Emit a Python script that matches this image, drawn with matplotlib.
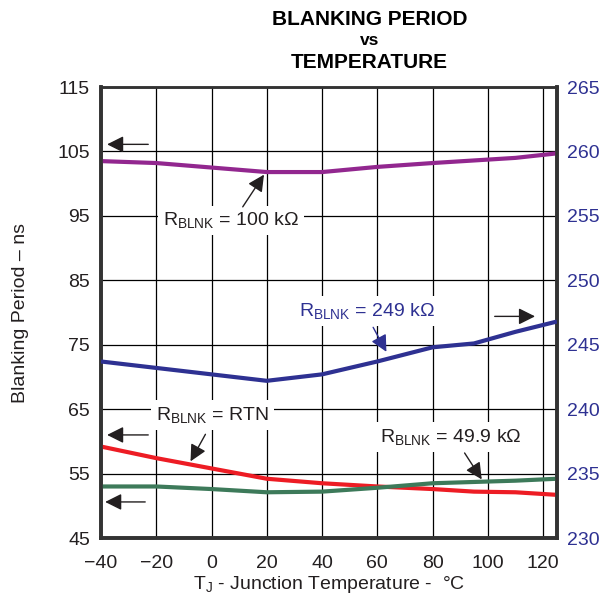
import matplotlib
matplotlib.use("Agg")
import matplotlib.pyplot as plt

plt.rcParams['font.family'] = ['Liberation Sans', 'DejaVu Sans']
plt.rcParams['mathtext.fontset'] = 'custom'
plt.rcParams['mathtext.rm'] = 'Liberation Sans'
plt.rcParams['mathtext.default'] = 'regular'

# Data
temp = [-40, -20, 0, 20, 40, 60, 80, 95, 110, 125]
r100k = [103.5, 103.2, 102.5, 101.8, 101.8, 102.6, 103.2, 103.6, 104.0, 104.7]   # left axis (ns)
r249k = [243.7, 243.2, 242.7, 242.2, 242.7, 243.7, 244.8, 245.1, 246.0, 246.8]   # right axis (ns)
rrtn = [59.2, 57.4, 55.8, 54.2, 53.5, 53.0, 52.6, 52.2, 52.1, 51.7]               # left axis
r49k = [53.0, 53.0, 52.6, 52.1, 52.2, 52.8, 53.5, 53.7, 53.9, 54.2]               # left axis

xticks = [-40, -20, 0, 20, 40, 60, 80, 100, 120]
xtick_labels = ['\u221240', '\u221220', '0', '20', '40', '60', '80', '100', '120']
yticks_left = [45, 55, 65, 75, 85, 95, 105, 115]
yticks_right = [230, 235, 240, 245, 250, 255, 260, 265]

PURPLE = '#92278F'
BLUE = '#2E3192'
RED = '#ED1C24'
GREEN = '#3D7A5A'
BLACK = '#231F20'

FS = 14

fig = plt.figure(figsize=(6.03, 5.98), dpi=100)
ax = fig.add_axes([0.1675, 0.1003, 0.756, 0.7542])
ax2 = ax.twinx()

ax.plot(temp, r100k, color=PURPLE, lw=3, solid_capstyle='butt', zorder=3)
ax.plot(temp, rrtn, color=RED, lw=3, solid_capstyle='butt', zorder=3)
ax.plot(temp, r49k, color=GREEN, lw=3, solid_capstyle='butt', zorder=3)
ax2.plot(temp, r249k, color=BLUE, lw=3, solid_capstyle='butt', zorder=3)

ax.set_xlim(-40, 125)
ax.set_ylim(45, 115)
ax2.set_ylim(230, 265)

ax.set_xticks(xticks)
ax.set_xticklabels(xtick_labels)
ax.set_yticks(yticks_left)
ax2.set_yticks(yticks_right)

ax.grid(True, color='black', lw=0.9)
ax.set_axisbelow(True)
ax.tick_params(axis='y', length=0, labelsize=FS, colors=BLACK, pad=8)
ax.tick_params(axis='x', length=0, labelsize=FS, colors=BLACK, pad=12)
ax2.tick_params(length=0, labelsize=FS, labelcolor=BLUE, pad=7)

for a in (ax, ax2):
    for s in a.spines.values():
        s.set_color('#333333')
    a.spines['left'].set_linewidth(2.6)
    a.spines['right'].set_linewidth(2.6)
    a.spines['bottom'].set_linewidth(2.6)
    a.spines['top'].set_linewidth(1.8)

ax.set_xlabel('T$_J$ - Junction Temperature -  \u00b0C', fontsize=FS, color=BLACK, labelpad=2)
ax.set_ylabel('Blanking Period \u2013 ns', fontsize=FS, color=BLACK, labelpad=20)

fig.text(0.613, 0.968, 'BLANKING PERIOD', ha='center', va='center', fontsize=15, fontweight='bold', color='black')
fig.text(0.613, 0.932, 'vs', ha='center', va='center', fontsize=12.5, fontweight='bold', color='black')
fig.text(0.613, 0.895, 'TEMPERATURE', ha='center', va='center', fontsize=15, fontweight='bold', color='black')

box = dict(boxstyle='square,pad=0.25', fc='white', ec='none')
ASTYLE = '-|>,head_length=0.5,head_width=0.25'

def label(x, y, s, color=BLACK):
    ax2.text(x, y, s, transform=ax.transData, ha='center', va='center', fontsize=FS, color=color, bbox=box, zorder=5)

def arr(x0, y0, x1, y1, color=BLACK):
    ax2.annotate('', xy=(x1, y1), xytext=(x0, y0), xycoords=ax.transData, textcoords=ax.transData,
                 arrowprops=dict(arrowstyle=ASTYLE, mutation_scale=20, lw=1, color=color,
                                 shrinkA=0, shrinkB=0), zorder=6)

label(7, 94.3, 'R$_{BLNK}$ = 100 k\u03a9')
arr(11.3, 96.4, 19.0, 101.4)

label(56.4, 80.2, 'R$_{BLNK}$ = 249 k\u03a9', color=BLUE)
arr(58.5, 77.7, 63.3, 73.9, color=BLUE)

label(0.4, 64.1, 'R$_{BLNK}$ = RTN')
arr(-2.2, 61.1, -7.6, 56.9)

label(86.5, 60.7, 'R$_{BLNK}$ = 49.9 k\u03a9')
arr(91.6, 58.2, 97.8, 54.1)

# axis-direction arrows
arr(-22.9, 106.1, -37.8, 106.1)
arr(-22.9, 61.0, -37.8, 61.0)
arr(-24.0, 50.6, -38.5, 50.6)
arr(102.5, 79.4, 117.1, 79.4)

fig.savefig('out.png', dpi=100)
